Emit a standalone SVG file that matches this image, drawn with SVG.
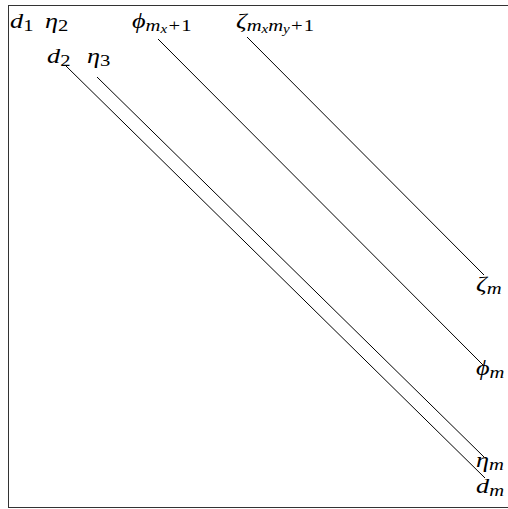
<svg xmlns="http://www.w3.org/2000/svg" width="508" height="509" viewBox="0 0 508 509">
<style>
text{font-family:"Liberation Serif","DejaVu Serif",serif;font-size:21px;fill:#000}
.i{font-style:italic}
.s{font-size:16.5px}
.ss{font-size:12px}
.conn line{stroke:#000;stroke-width:1}
</style>
<rect x="8.5" y="5.5" width="560" height="502" fill="#fff" stroke="#333" stroke-width="1"/>
<g class="conn" id="connectors">
<line x1="66" y1="66" x2="485" y2="478"/>
<line x1="97" y1="77" x2="484" y2="457"/>
<line x1="158" y1="39" x2="484" y2="366"/>
<line x1="247" y1="37" x2="484" y2="275"/>
</g>
<g id="n_d1"><text transform="translate(10 28) scale(1.25 1)"><tspan class="i">d</tspan><tspan class="s" dy="3">1</tspan></text></g>
<g id="n_eta2"><text transform="translate(45 28) scale(1.25 1)"><tspan class="i">η</tspan><tspan class="s" dy="3">2</tspan></text></g>
<g id="n_phi1"><text transform="translate(132 28) scale(1.25 1)"><tspan class="i">ϕ</tspan><tspan class="s i" dy="3">m</tspan><tspan class="ss i" dy="2">x</tspan><tspan class="s" dx="1" dy="-2">+</tspan><tspan class="s" dx="1">1</tspan></text></g>
<g id="n_zeta1"><text transform="translate(236 28) scale(1.25 1)"><tspan class="i">ζ</tspan><tspan class="s i" dy="3">m</tspan><tspan class="ss i" dy="2">x</tspan><tspan class="s i" dy="-2">m</tspan><tspan class="ss i" dy="2">y</tspan><tspan class="s" dx="1" dy="-2">+</tspan><tspan class="s" dx="1">1</tspan></text></g>
<g id="n_d2"><text transform="translate(47 63) scale(1.25 1)"><tspan class="i">d</tspan><tspan class="s" dy="3">2</tspan></text></g>
<g id="n_eta3"><text transform="translate(87 63) scale(1.25 1)"><tspan class="i">η</tspan><tspan class="s" dy="3">3</tspan></text></g>
<g id="n_zetam"><text transform="translate(476 291) scale(1.25 1)"><tspan class="i">ζ</tspan><tspan class="s i" dy="3">m</tspan></text></g>
<g id="n_phim"><text transform="translate(476 375) scale(1.25 1)"><tspan class="i">ϕ</tspan><tspan class="s i" dy="3">m</tspan></text></g>
<g id="n_etam"><text transform="translate(476 467) scale(1.25 1)"><tspan class="i">η</tspan><tspan class="s i" dy="3">m</tspan></text></g>
<g id="n_dm"><text transform="translate(476 493) scale(1.25 1)"><tspan class="i">d</tspan><tspan class="s i" dy="3">m</tspan></text></g>
</svg>
